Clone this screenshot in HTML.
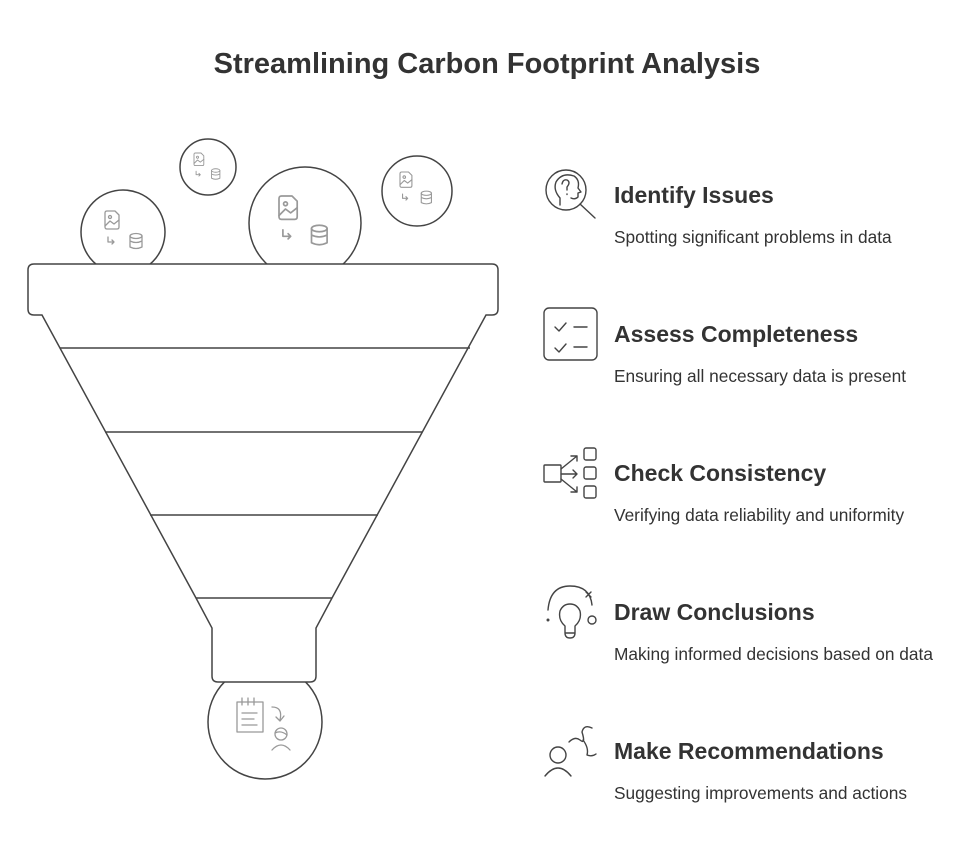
<!DOCTYPE html>
<html><head><meta charset="utf-8"><style>
body{margin:0;background:#fff;width:975px;height:864px;overflow:hidden}
svg{display:block}
text{font-family:"Liberation Sans",Arial,sans-serif;fill:#333}
.h{font-size:23px;font-weight:bold}
.d{font-size:17.3px}
.ic{fill:none;stroke:#999;stroke-width:1.3;stroke-linecap:round;stroke-linejoin:round}
.ik{fill:none;stroke:#444;stroke-width:1.4;stroke-linecap:round;stroke-linejoin:round}
</style></head><body>
<svg width="975" height="864" viewBox="0 0 975 864">
<text x="487" y="73" text-anchor="middle" style="font-size:29px;font-weight:bold">Streamlining Carbon Footprint Analysis</text>

<g fill="#fff" stroke="#444" stroke-width="1.5">
<circle cx="123" cy="232" r="42"/>
<circle cx="208" cy="167" r="28"/>
<circle cx="305" cy="223" r="56"/>
<circle cx="417" cy="191" r="35"/>
<circle cx="265" cy="722" r="57"/>
<path d="M34,264 H492 Q498,264 498,270 V309 Q498,315 492,315 H486 L332,598 L316,628 V676 Q316,682 310,682 H218 Q212,682 212,676 V628 L196,598 L42,315 H34 Q28,315 28,309 V270 Q28,264 34,264 Z"/>
<path d="M60,348 H470 M105,432 H422 M150,515 H378 M196,598 H332" fill="none"/>
</g>

<g class="ic">
<g transform="translate(105,211)"><path d="M0,2 Q0,0 2,0 H10 L14,4 V16 Q14,18 12,18 H2 Q0,18 0,16 Z"/><circle cx="5" cy="6" r="1.5"/><path d="M0,15 L5,10 L9,13 L14,9"/><path d="M3,26 V31 H9 M7,29 L9,31 L7,33"/><ellipse cx="31" cy="25" rx="6" ry="2.5"/><path d="M25,25 V36 Q31,39 37,36 V25 M25,30 Q31,33 37,30"/></g>
<g transform="translate(194,153) scale(0.7)"><path d="M0,2 Q0,0 2,0 H10 L14,4 V16 Q14,18 12,18 H2 Q0,18 0,16 Z"/><circle cx="5" cy="6" r="1.5"/><path d="M0,15 L5,10 L9,13 L14,9"/><path d="M3,26 V31 H9 M7,29 L9,31 L7,33"/><ellipse cx="31" cy="25" rx="6" ry="2.5"/><path d="M25,25 V36 Q31,39 37,36 V25 M25,30 Q31,33 37,30"/></g>
<g transform="translate(279,196) scale(1.3)"><path d="M0,2 Q0,0 2,0 H10 L14,4 V16 Q14,18 12,18 H2 Q0,18 0,16 Z"/><circle cx="5" cy="6" r="1.5"/><path d="M0,15 L5,10 L9,13 L14,9"/><path d="M3,26 V31 H9 M7,29 L9,31 L7,33"/><ellipse cx="31" cy="25" rx="6" ry="2.5"/><path d="M25,25 V36 Q31,39 37,36 V25 M25,30 Q31,33 37,30"/></g>
<g transform="translate(400,172) scale(0.85)"><path d="M0,2 Q0,0 2,0 H10 L14,4 V16 Q14,18 12,18 H2 Q0,18 0,16 Z"/><circle cx="5" cy="6" r="1.5"/><path d="M0,15 L5,10 L9,13 L14,9"/><path d="M3,26 V31 H9 M7,29 L9,31 L7,33"/><ellipse cx="31" cy="25" rx="6" ry="2.5"/><path d="M25,25 V36 Q31,39 37,36 V25 M25,30 Q31,33 37,30"/></g>
<path d="M237,702 H263 V732 H237 Z M242,698 V705 M248,698 V705 M254,698 V705 M242,713 H257 M242,719 H254 M242,725 H257"/>
<path d="M272,707 Q283,707 280,720 M276,717 L280,721 L284,716"/>
<circle cx="281" cy="734" r="6"/><path d="M275,733 Q281,730 287,735 M272,750 Q281,740 290,750"/>
</g>

<g class="ik">
<circle cx="566" cy="190" r="20"/><path d="M580,204 L595,218"/>
<path d="M560,205 V198 Q553,190 556,182 Q562,172 574,176 Q580,180 578,188 L581,192 L578,193 V197 Q575,200 571,198"/>
<path d="M562,184 Q563,179 567,180 Q571,182 567,187 V190 M567,194 V194.5"/>
<rect x="544" y="308" width="53" height="52" rx="5"/>
<path d="M555,327 L559,331 L566,323 M574,327 H587 M555,348 L559,352 L566,344 M574,347 H587"/>
<rect x="544" y="465" width="17" height="17" rx="1"/>
<path d="M561,469 L577,456 M571,456 H577 V461 M561,474 H577 M573,470 L577,474 L573,478 M561,479 L577,492 M571,492 H577 V487"/>
<rect x="584" y="448" width="12" height="12" rx="2"/><rect x="584" y="467" width="12" height="12" rx="2"/><rect x="584" y="486" width="12" height="12" rx="2"/>
<path d="M548,610 Q550,586 570,586 Q590,586 592,605 M586,592 L591,597 M591,592 L586,597"/>
<circle cx="548" cy="620" r="0.8"/><circle cx="592" cy="620" r="4"/>
<path d="M565,633 V626 Q558,620 560,611 Q563,604 570,604 Q577,604 580,611 Q582,620 575,626 V633 Z M565,633 Q565,638 570,638 Q575,638 575,633"/>
<circle cx="558" cy="755" r="8"/><path d="M545,776 Q558,760 571,776"/>
<path d="M569,742 Q575,736 580,740 Q586,745 582,732 Q584,724 592,728 M583,740 Q589,748 587,755 Q592,757 596,754"/>
</g>

<text x="614" y="203" class="h">Identify Issues</text>
<text x="614" y="243" class="d">Spotting significant problems in data</text>
<text x="614" y="342" class="h">Assess Completeness</text>
<text x="614" y="382" class="d">Ensuring all necessary data is present</text>
<text x="614" y="481" class="h">Check Consistency</text>
<text x="614" y="521" class="d">Verifying data reliability and uniformity</text>
<text x="614" y="620" class="h">Draw Conclusions</text>
<text x="614" y="660" class="d">Making informed decisions based on data</text>
<text x="614" y="759" class="h">Make Recommendations</text>
<text x="614" y="799" class="d">Suggesting improvements and actions</text>
</svg>
</body></html>
